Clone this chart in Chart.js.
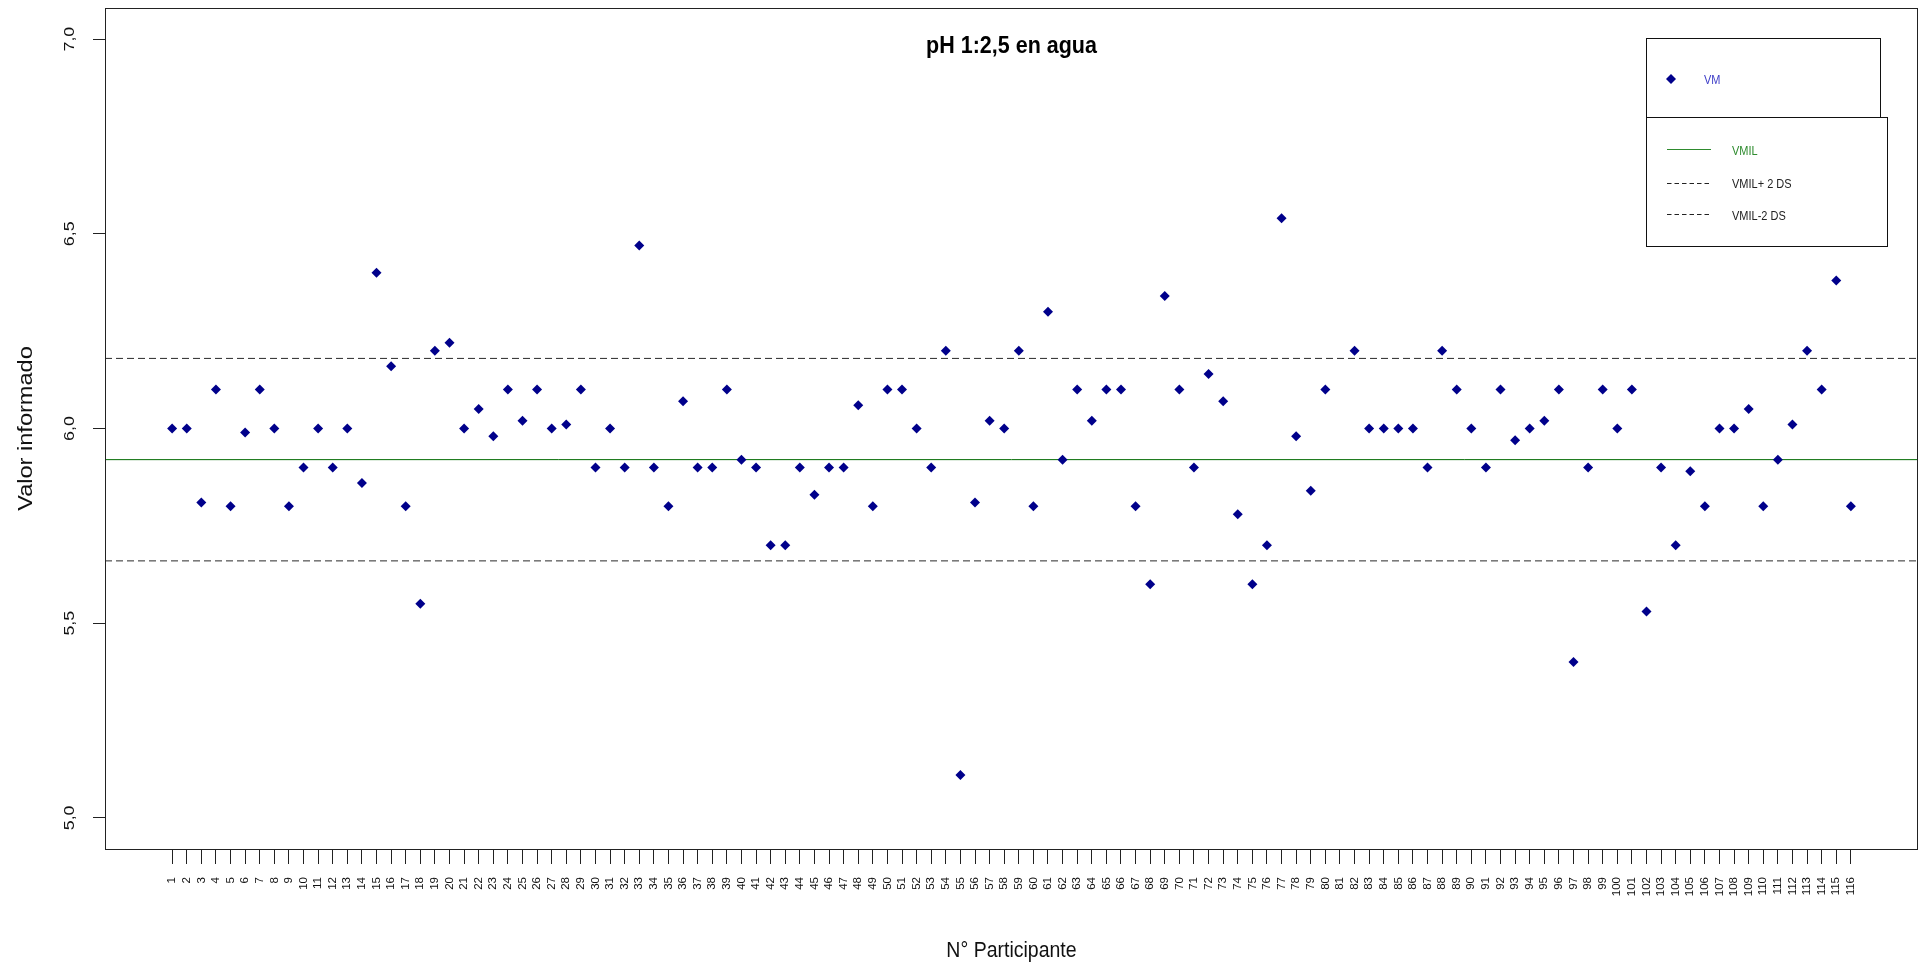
<!DOCTYPE html>
<html>
<head>
<meta charset="utf-8">
<script src="https://cdn.jsdelivr.net/npm/chart.js@4.4.1/dist/chart.umd.min.js"></script>
<style>
html,body{margin:0;padding:0;background:#fff;overflow:hidden}
#wrap{width:1923px;height:965px;position:relative}
</style>
</head>
<body>
<div id="wrap"><canvas id="c" width="1923" height="965"></canvas></div>
<script>
// ---- data ----
const chartTitle = 'pH 1:2,5 en agua';
const xTitle = 'N° Participante';
const yTitle = 'Valor informado';
const participants = [1,2,3,4,5,6,7,8,9,10,11,12,13,14,15,16,17,18,19,20,
  21,22,23,24,25,26,27,28,29,30,31,32,33,34,35,36,37,38,39,40,
  41,42,43,44,45,46,47,48,49,50,51,52,53,54,55,56,57,58,59,60,
  61,62,63,64,65,66,67,68,69,70,71,72,73,74,75,76,77,78,79,80,
  81,82,83,84,85,86,87,88,89,90,91,92,93,94,95,96,97,98,99,100,
  101,102,103,104,105,106,107,108,109,110,111,112,113,114,115,116];
const xTickLabels = participants.map(String);
const valuesVM = [
  6.00, 6.00, 5.81, 6.10, 5.80, 5.99, 6.10, 6.00, 5.80, 5.90,
  6.00, 5.90, 6.00, 5.86, 6.40, 6.16, 5.80, 5.55, 6.20, 6.22,
  6.00, 6.05, 5.98, 6.10, 6.02, 6.10, 6.00, 6.01, 6.10, 5.90,
  6.00, 5.90, 6.47, 5.90, 5.80, 6.07, 5.90, 5.90, 6.10, 5.92,
  5.90, 5.70, 5.70, 5.90, 5.83, 5.90, 5.90, 6.06, 5.80, 6.10,
  6.10, 6.00, 5.90, 6.20, 5.11, 5.81, 6.02, 6.00, 6.20, 5.80,
  6.30, 5.92, 6.10, 6.02, 6.10, 6.10, 5.80, 5.60, 6.34, 6.10,
  5.90, 6.14, 6.07, 5.78, 5.60, 5.70, 6.54, 5.98, 5.84, 6.10,
  null, 6.20, 6.00, 6.00, 6.00, 6.00, 5.90, 6.20, 6.10, 6.00,
  5.90, 6.10, 5.97, 6.00, 6.02, 6.10, 5.40, 5.90, 6.10, 6.00,
  6.10, 5.53, 5.90, 5.70, 5.89, 5.80, 6.00, 6.00, 6.05, 5.80,
  5.92, 6.01, 6.20, 6.10, 6.38, 5.80];
const vmil = 5.92;
const vmilPlus2DS = 6.18;
const vmilMinus2DS = 5.66;
const yTicks = [5.0, 5.5, 6.0, 6.5, 7.0];
const yTickLabels = ['5,0', '5,5', '6,0', '6,5', '7,0'];
const xMin = -3.6, xMax = 120.6;
const yMin = 4.92, yMax = 7.08;
const legendLabels = ['VM', 'VMIL', 'VMIL+ 2 DS', 'VMIL-2 DS'];

// ---- styles ----
const FONT = '"Liberation Sans", Arial, sans-serif';
const VSTRETCH = 1.15;
const pointColor = '#00008B';
const greenColor = '#006a00';
const dashColor = '#2a2a2a';

function drawText(ctx, text, x, y, o) {
  ctx.save();
  ctx.translate(x, y);
  if (o.rotate) ctx.rotate(o.rotate);
  ctx.scale(o.sx || 1, o.sy || 1);
  ctx.font = o.font;
  ctx.fillStyle = o.color || '#000';
  ctx.textAlign = o.align || 'left';
  ctx.textBaseline = o.baseline || 'alphabetic';
  ctx.fillText(text, 0, 0);
  ctx.restore();
}

const decorPlugin = {
  id: 'decor',
  beforeDraw(chart) {
    const ctx = chart.ctx;
    ctx.save();
    ctx.fillStyle = '#fff';
    ctx.fillRect(0, 0, chart.width, chart.height);
    ctx.restore();
  },
  afterDraw(chart) {
    const ctx = chart.ctx;
    const a = chart.chartArea;
    const ys = chart.scales.y;
    // frame
    ctx.save();
    ctx.strokeStyle = '#222';
    ctx.lineWidth = 1;
    ctx.strokeRect(a.left + 0.5, a.top + 0.5, a.right - a.left - 1, a.bottom - a.top);
    ctx.restore();
    // y tick labels (rotated, parallel to axis)
    yTicks.forEach((v, i) => {
      drawText(ctx, yTickLabels[i], a.left - 31.5, ys.getPixelForValue(v), {
        font: '15.5px ' + FONT, color: '#111', align: 'center', rotate: -Math.PI / 2, sx: VSTRETCH });
    });
    // axis titles
    drawText(ctx, yTitle, 31.5, (a.top + a.bottom) / 2, {
      font: '20.5px ' + FONT, color: '#111', align: 'center', rotate: -Math.PI / 2, sx: VSTRETCH });
    drawText(ctx, xTitle, (a.left + a.right) / 2, 956.5, {
      font: '19.5px ' + FONT, color: '#111', align: 'center', sy: VSTRETCH });
    // chart title
    drawText(ctx, chartTitle, (a.left + a.right) / 2, 53, {
      font: 'bold 21.5px ' + FONT, color: '#000', align: 'center', sy: VSTRETCH });
    // legend
    const L = a.right - 272;
    ctx.save();
    ctx.lineWidth = 1;
    ctx.strokeStyle = '#111';
    ctx.fillStyle = '#fff';
    ctx.fillRect(L, 38, 234, 79);
    ctx.strokeRect(L + 0.5, 38.5, 234, 79);
    ctx.fillRect(L, 117, 241, 129);
    ctx.strokeRect(L + 0.5, 117.5, 241, 129);
    // diamond
    ctx.fillStyle = pointColor;
    ctx.beginPath();
    ctx.moveTo(L + 25, 74); ctx.lineTo(L + 30, 79); ctx.lineTo(L + 25, 84); ctx.lineTo(L + 20, 79);
    ctx.closePath(); ctx.fill();
    // lines
    ctx.strokeStyle = '#2e8b2e';
    ctx.beginPath(); ctx.moveTo(L + 21, 149.5); ctx.lineTo(L + 65, 149.5); ctx.stroke();
    ctx.strokeStyle = '#222';
    ctx.setLineDash([4.5, 3]);
    ctx.beginPath(); ctx.moveTo(L + 21, 183.5); ctx.lineTo(L + 65, 183.5); ctx.stroke();
    ctx.beginPath(); ctx.moveTo(L + 21, 214.5); ctx.lineTo(L + 65, 214.5); ctx.stroke();
    ctx.restore();
    const lf = '11px ' + FONT;
    drawText(ctx, legendLabels[0], L + 58, 83.5, { font: lf, color: '#4040c8', sy: VSTRETCH });
    drawText(ctx, legendLabels[1], L + 86, 155, { font: lf, color: '#2e8b2e', sy: VSTRETCH });
    drawText(ctx, legendLabels[2], L + 86, 187.5, { font: lf, color: '#222', sy: VSTRETCH });
    drawText(ctx, legendLabels[3], L + 86, 219.5, { font: lf, color: '#222', sy: VSTRETCH });
  }
};

const vmPoints = participants
  .map((p, i) => ({ x: p, y: valuesVM[i] }))
  .filter(d => d.y !== null);

new Chart(document.getElementById('c'), {
  type: 'scatter',
  data: {
    datasets: [
      { label: legendLabels[0], data: vmPoints, pointStyle: 'rectRot', pointRadius: 5,
        pointBackgroundColor: pointColor, pointBorderColor: pointColor, pointBorderWidth: 0,
        showLine: false, order: 0 },
      { label: legendLabels[1], type: 'line', data: [{ x: xMin, y: vmil }, { x: xMax, y: vmil }],
        borderColor: greenColor, borderWidth: 1, pointRadius: 0, fill: false, order: 2 },
      { label: legendLabels[2], type: 'line', data: [{ x: xMin, y: vmilPlus2DS }, { x: xMax, y: vmilPlus2DS }],
        borderColor: dashColor, borderWidth: 1, borderDash: [7, 4], pointRadius: 0, fill: false, order: 2 },
      { label: legendLabels[3], type: 'line', data: [{ x: xMin, y: vmilMinus2DS }, { x: xMax, y: vmilMinus2DS }],
        borderColor: dashColor, borderWidth: 1, borderDash: [7, 4], pointRadius: 0, fill: false, order: 2 }
    ]
  },
  options: {
    responsive: false,
    animation: false,
    devicePixelRatio: 1,
    events: [],
    layout: { padding: { top: 8, right: 4, left: 0, bottom: 0 } },
    plugins: { legend: { display: false }, tooltip: { enabled: false }, title: { display: false } },
    scales: {
      x: {
        type: 'linear', min: xMin, max: xMax,
        afterBuildTicks: s => { s.ticks = participants.map(v => ({ value: v })); },
        afterFit: s => { s.height = 116; },
        grid: { drawOnChartArea: false, drawTicks: true, tickLength: 15, tickColor: '#222', color: '#222' },
        border: { display: false },
        ticks: {
          autoSkip: false, minRotation: 90, maxRotation: 90, padding: 13,
          font: { family: FONT, size: 11.5 }, color: '#111',
          callback: (v, i) => xTickLabels[i]
        }
      },
      y: {
        type: 'linear', min: yMin, max: yMax,
        afterBuildTicks: s => { s.ticks = yTicks.map(v => ({ value: v })); },
        afterFit: s => { s.width = 105; },
        grid: { drawOnChartArea: false, drawTicks: true, tickLength: 12, tickColor: '#222', color: '#222' },
        border: { display: false },
        ticks: { display: false }
      }
    }
  },
  plugins: [decorPlugin]
});
</script>
</body>
</html>
